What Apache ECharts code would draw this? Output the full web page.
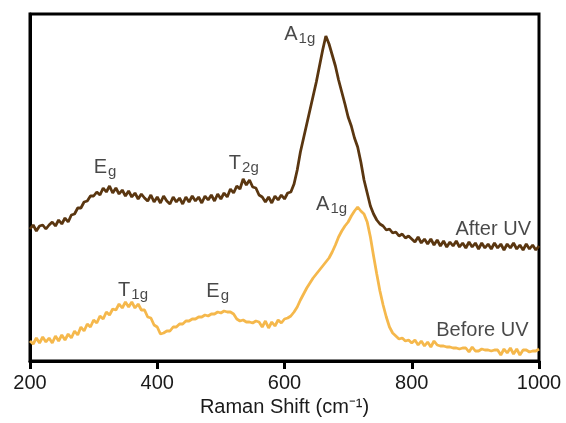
<!DOCTYPE html>
<html>
<head>
<meta charset="utf-8">
<script src="https://cdn.jsdelivr.net/npm/echarts@6/dist/echarts.min.js"></script>
<style>html,body{margin:0;padding:0;background:#fff}#c{width:566px;height:423px}</style>
</head>
<body>
<div id="c"></div>
<script>
// Raman shift axis, 200..1000 step 5 cm-1
const shiftStart = 200, shiftStep = 5;
const xTicks = [200, 400, 600, 800, 1000];

// After UV intensities (a.u.)
const afterUV = [
132,136,130,135,136,132,136,139,135,141,137,143,139,146,147,153,153,159,160,165,
165,169,166,173,169,175,168,173,167,171,165,170,164,168,162,167,163,160,166,159,
164,158,165,160,157,164,159,163,157,164,159,165,160,164,158,165,161,166,160,167,
162,168,164,172,168,175,172,182,176,181,174,173,166,164,159,164,158,165,161,166,
162,168,169,177,191,209,223,237,251,265,279,295,311,325,317,306,295,281,269,257,
244,235,223,214,199,181,168,155,147,141,137,135,131,132,128,129,125,127,123,125,
122,119,124,118,122,117,122,116,121,115,120,114,119,115,120,114,118,113,119,114,
118,112,118,113,117,112,118,113,117,111,117,113,118,112,116,111,117,112,116,111,
115
];

// Before UV intensities (a.u.)
const beforeUV = [
20,17,23,18,24,19,23,18,25,20,26,21,27,23,30,26,34,30,37,34,
41,38,45,42,49,46,52,51,57,53,59,54,59,53,57,51,51,44,43,36,
34,27,28,30,30,34,34,37,37,40,40,42,42,44,44,46,45,47,47,49,
48,50,49,49,47,42,40,41,39,39,38,40,39,34,40,33,39,35,41,38,
42,43,45,49,54,61,67,73,78,83,87,91,95,99,103,109,116,124,130,135,
139,145,150,154,150,147,139,124,105,87,70,56,44,34,28,25,22,23,20,21,
18,21,16,20,15,19,14,20,16,15,15,14,14,13,13,12,13,13,9,14,
10,10,12,11,11,10,11,11,6,12,8,13,7,12,6,11,11,9,10,10,
12
];

// peak annotations: main letter, subscript, position (shift, intensity)
const peakMain = ['A', 'E', 'T', 'A', 'T', 'E'];
const peakSub  = ['1g', 'g', '2g', '1g', '1g', 'g'];
const peakX    = [624, 318, 536, 674, 362, 495];
const peakY    = [327, 194, 198, 157, 71, 70];

// series labels
const seriesNames = ['After UV', 'Before UV'];
const seriesLabelX = [928, 911];
const seriesLabelY = [132, 31];

const xName = 'Raman Shift (cm\u207B\u00B9)';

function toPairs(arr) {
  return arr.map((v, i) => [shiftStart + i * shiftStep, v]);
}

const font = 'Liberation Sans, Arial, sans-serif';
const txt = '#1a1a1a';
const chart = echarts.init(document.getElementById('c'), null, {renderer: 'canvas'});
chart.setOption({
  animation: false,
  grid: {left: 30, right: 27, top: 14, bottom: 62, show: true, borderColor: '#000', borderWidth: 3, backgroundColor: 'transparent'},
  xAxis: {
    type: 'value', min: 200, max: 1000, interval: 200,
    name: xName, nameLocation: 'middle', nameGap: 30,
    nameTextStyle: {fontSize: 20, color: txt, fontFamily: font},
    axisLine: {show: true, lineStyle: {color: '#000', width: 3}},
    axisTick: {show: true, length: 8, lineStyle: {color: '#000', width: 3}},
    axisLabel: {fontSize: 20, color: txt, fontFamily: font, margin: 12,
      formatter: v => xTicks.includes(v) ? String(v) : ''},
    splitLine: {show: false}
  },
  yAxis: {
    type: 'value', min: 0, max: 347,
    axisLine: {show: true, lineStyle: {color: '#000', width: 3}},
    axisTick: {show: false}, axisLabel: {show: false}, splitLine: {show: false}
  },
  series: [
    {type: 'line', name: seriesNames[0], data: toPairs(afterUV), showSymbol: false,
     lineStyle: {color: '#5a3610', width: 2.8}, silent: true, z: 3},
    {type: 'line', name: seriesNames[1], data: toPairs(beforeUV), showSymbol: false,
     lineStyle: {color: '#f5b84c', width: 2.8}, silent: true, z: 2},
    {type: 'scatter', symbolSize: 0, silent: true, z: 5,
     data: peakMain.map((m, i) => [peakX[i], peakY[i], m, peakSub[i]]),
     label: {show: true, position: 'inside',
       formatter: p => '{m|' + p.data[2] + '}{s|' + p.data[3] + '}',
       rich: {
         m: {fontSize: 20, color: txt, fontFamily: font, lineHeight: 22},
         s: {fontSize: 15, color: txt, fontFamily: font, padding: [10, 0, 0, 1], lineHeight: 15}
       }}},
    {type: 'scatter', symbolSize: 0, silent: true, z: 5,
     data: seriesNames.map((n, i) => [seriesLabelX[i], seriesLabelY[i], n]),
     label: {show: true, position: 'inside', formatter: p => p.data[2],
       fontSize: 20, color: txt, fontFamily: font}}
  ]
});
</script>
</body>
</html>
